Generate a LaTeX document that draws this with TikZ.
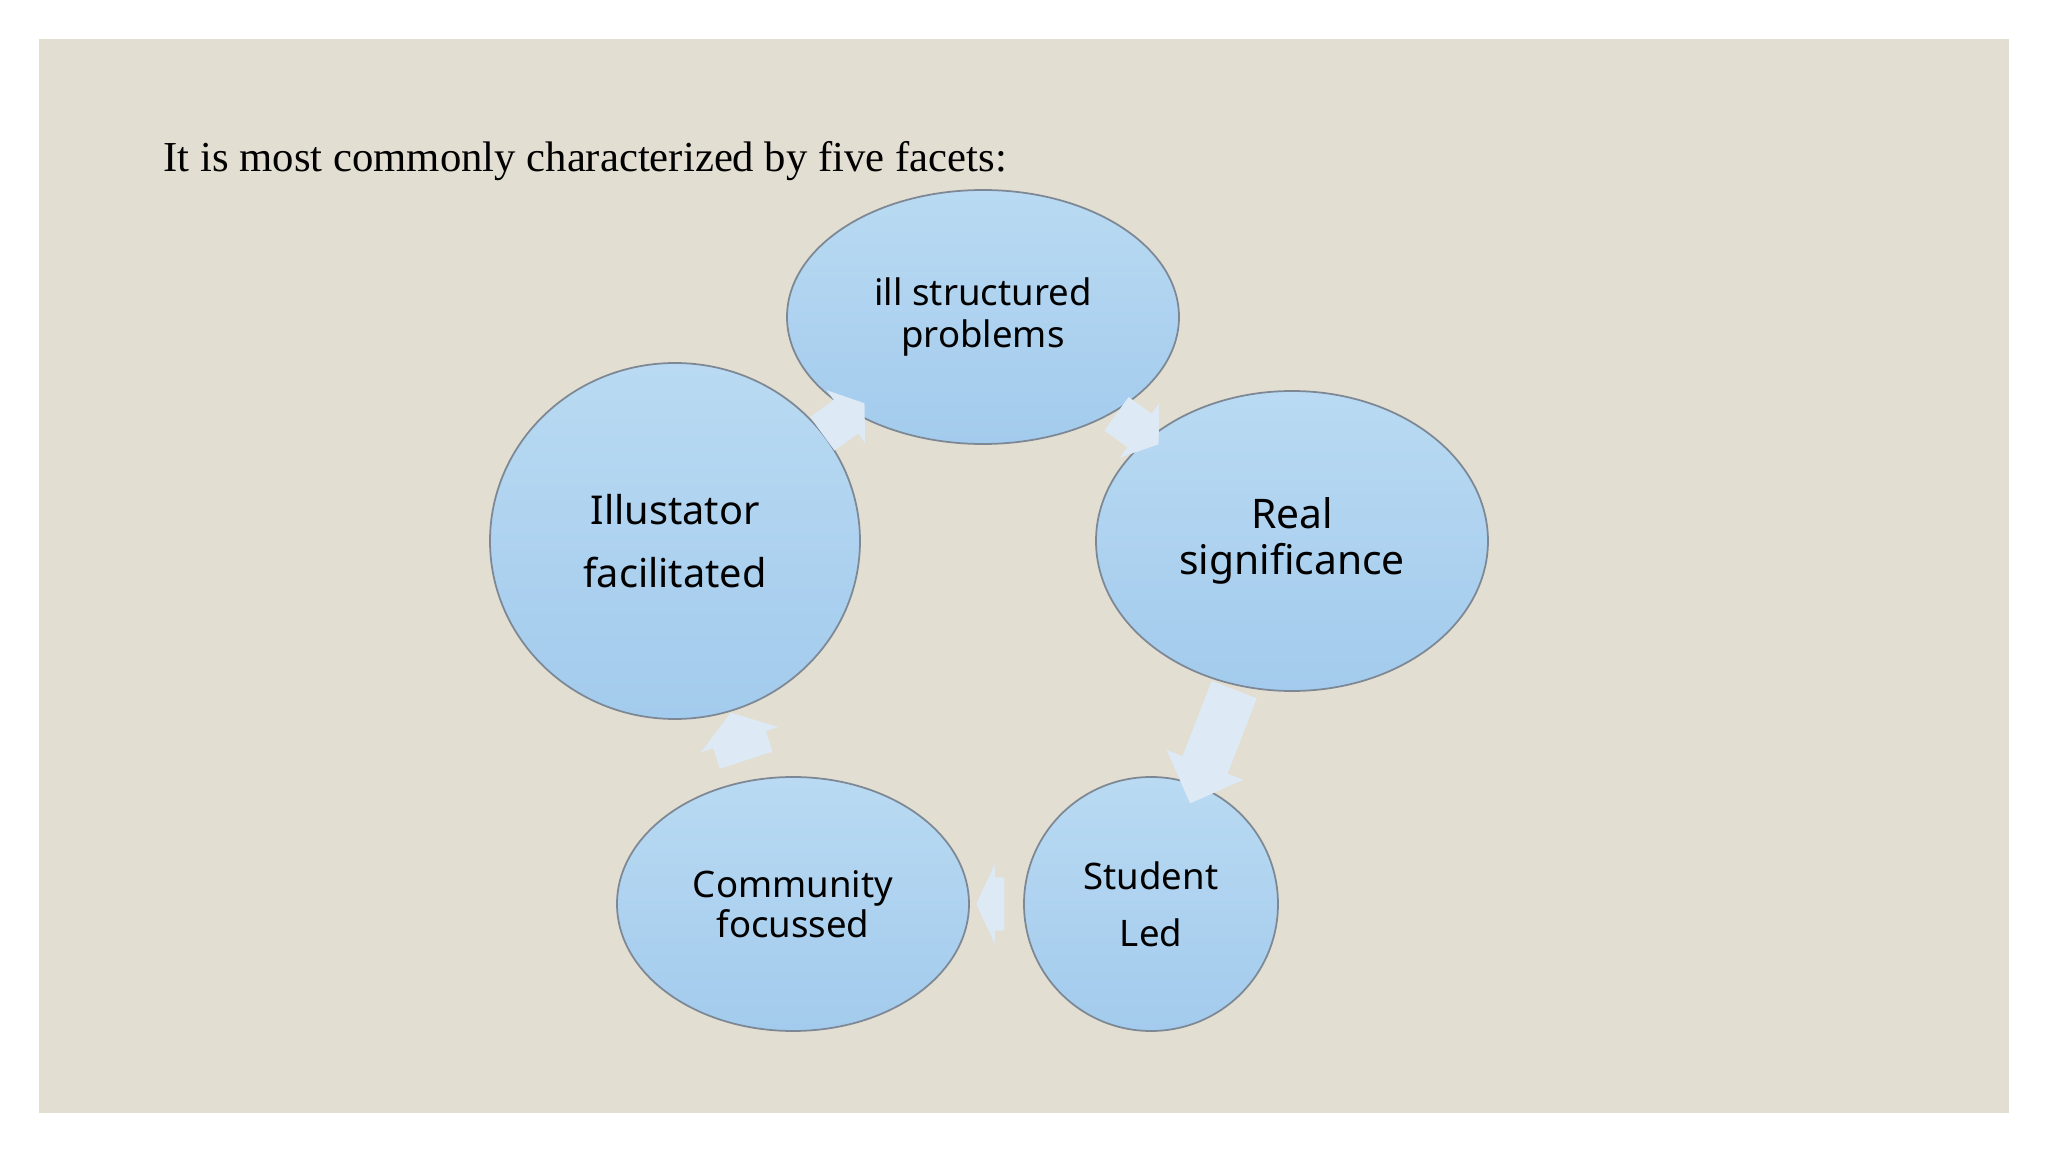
\documentclass[tikz,border=0pt]{standalone}
\usepackage{fontspec}
\setmainfont{Liberation Serif}
\newfontfamily\facetfont{Noto Sans}
\usetikzlibrary{shapes.geometric,shapes.arrows}

\definecolor{slidebg}{HTML}{E2DED1}
\definecolor{facettop}{HTML}{B9DAF2}
\definecolor{facetbot}{HTML}{A3CBED}
\definecolor{facetline}{HTML}{7D8894}
\definecolor{arrowfill}{HTML}{DDEAF6}

\begin{document}
\begin{tikzpicture}[
    facet/.style={ellipse, draw=facetline, line width=0.5pt,
                  top color=facettop, bottom color=facetbot,
                  inner sep=0pt, align=center, font=\facetfont},
    flowarrow/.style={single arrow, fill=arrowfill, draw=none,
                      sloped, allow upside down, inner xsep=0pt}
  ]
  \useasboundingbox (0,0) rectangle (20.48,-11.52);
  \fill[slidebg] (0.39,-0.39) rectangle (20.09,-11.13);

  % heading
  \node[anchor=base west, inner sep=0pt, font=\fontsize{12.15}{14}\selectfont] (head) at (1.63,-1.72)
    {It is most commonly characterized by five facets:};

  % the five facets
  \node[facet, minimum width=3.92cm, minimum height=2.54cm, font=\facetfont\fontsize{10.4}{11.9}\selectfont]
    (prob) at (9.83,-3.17) {ill structured\\problems};
  \node[facet, minimum width=3.92cm, minimum height=3.00cm, font=\facetfont\fontsize{11.6}{13}\selectfont]
    (real) at (12.92,-5.41) {Real\\significance};
  \node[facet, minimum width=2.54cm, minimum height=2.54cm, font=\facetfont\fontsize{10.4}{16.3}\selectfont]
    (stud) at (11.51,-9.04) {Student\\Led};
  \node[facet, minimum width=3.52cm, minimum height=2.54cm, font=\facetfont\fontsize{10.4}{11.5}\selectfont]
    (comm) at (7.93,-9.04) {Community\\focussed};
  \node[facet, minimum width=3.70cm, minimum height=3.56cm, font=\facetfont\fontsize{11.3}{17.8}\selectfont]
    (illu) at (6.75,-5.41) {Illustator\\facilitated};

  % cycle arrows
  \path (prob) -- node[flowarrow, minimum height=0.52cm, inner ysep=0.2cm,
                       single arrow head extend=0.13cm, single arrow tip angle=110] {} (real);
  \path (real) -- node[flowarrow, minimum height=1.22cm, inner ysep=0.235cm,
                       single arrow head extend=0.17cm] {} (stud);
  \path (stud) -- node[flowarrow, minimum height=0.28cm, inner ysep=0.26cm,
                       single arrow head extend=0.13cm, single arrow tip angle=130] {} (comm);
  \path (comm) -- node[flowarrow, minimum height=0.50cm, inner ysep=0.27cm,
                       single arrow head extend=0.13cm, single arrow tip angle=110] {} (illu);
  \path (illu) -- node[flowarrow, minimum height=0.52cm, inner ysep=0.2cm,
                       single arrow head extend=0.12cm, single arrow tip angle=110] {} (prob);
\end{tikzpicture}
\end{document}
